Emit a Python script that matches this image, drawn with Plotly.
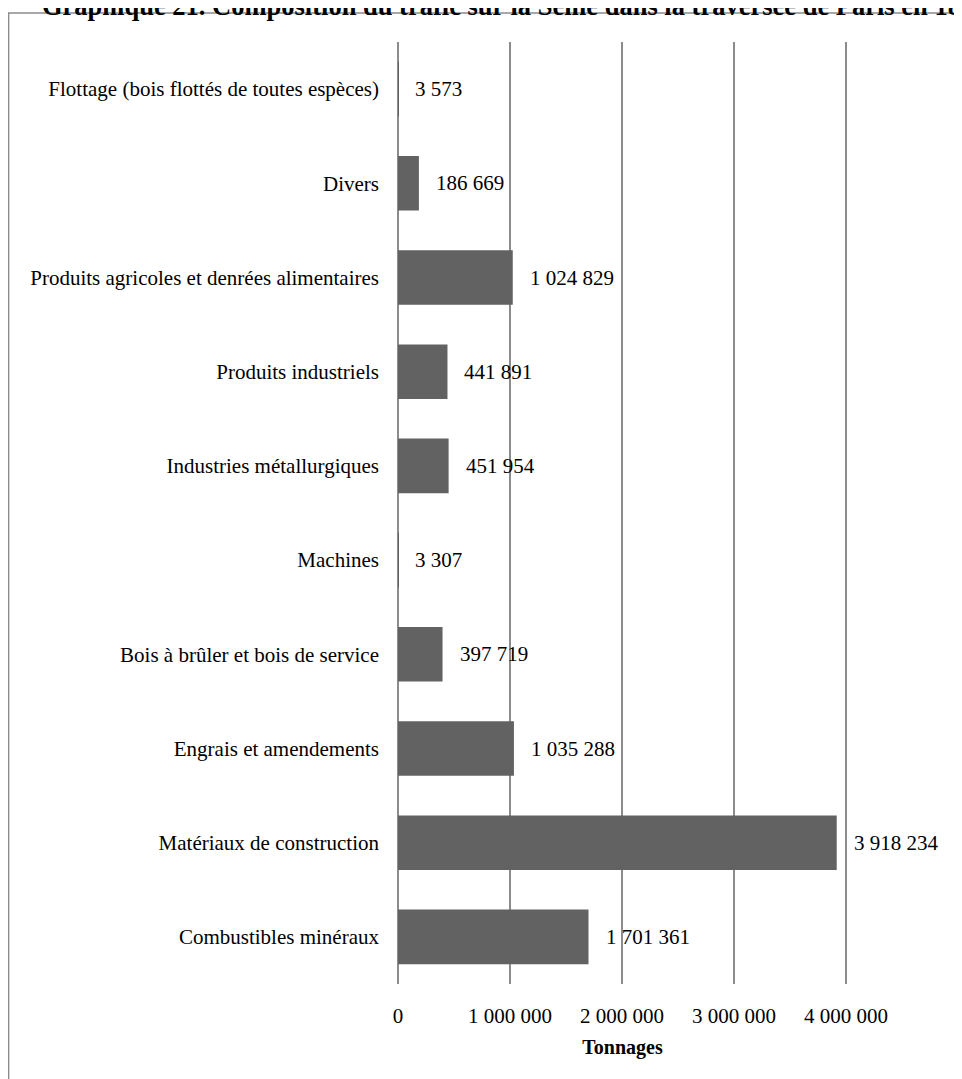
import plotly.graph_objects as go

categories = [
    "Flottage (bois flottés de toutes espèces)",
    "Divers",
    "Produits agricoles et denrées alimentaires",
    "Produits industriels",
    "Industries métallurgiques",
    "Machines",
    "Bois à brûler et bois de service",
    "Engrais et amendements",
    "Matériaux de construction",
    "Combustibles minéraux",
]
tonnages = [3573, 186669, 1024829, 441891, 451954, 3307, 397719, 1035288, 3918234, 1701361]
tick_values = [0, 1000000, 2000000, 3000000, 4000000]
title_text = "Graphique 21. Composition du trafic sur la Seine dans la traversée de Paris en 18"
x_title = "Tonnages"

OFF = 8  # default page margin of the browser
W, H = 962, 1079
X_MAX = 4010000
SCALE = 112 / 1000000  # pixels per tonne
pw_target = X_MAX * SCALE
L, T, B = 398 - OFF, 42 - OFF, 95 + OFF
R = W - L - pw_target
pw, ph = W - L - R, H - T - B

def px_x(p):
    return (p - OFF - L) / pw

def px_y(p):
    return (H - B - (p - OFF)) / ph

FONT = "Liberation Serif"

fig = go.Figure()
fig.add_trace(go.Bar(
    x=tonnages, y=categories, orientation="h",
    marker=dict(color="#626262", line=dict(width=0)),
    hoverinfo="skip",
))

def fmt(v):
    return f"{v:,}".replace(",", " ")

for c, v in zip(categories, tonnages):
    fig.add_annotation(x=v, y=c, xref="x", yref="y", text=fmt(v), showarrow=False,
                       xanchor="left", yanchor="middle", xshift=15,
                       font=dict(family=FONT, size=21, color="#000000"))

fig.add_annotation(x=px_x(40), y=px_y(5.5), xref="paper", yref="paper", text="<b>" + title_text + "</b>",
                   showarrow=False, xanchor="left", yanchor="middle",
                   font=dict(family=FONT, size=26.5, color="#000000"))

fig.add_shape(type="rect", xref="paper", yref="paper",
              x0=px_x(8.5), x1=px_x(1010), y0=px_y(13), y1=px_y(1120),
              line=dict(color="#8c8c8c", width=1.5), fillcolor="rgba(0,0,0,0)", layer="below")

fig.update_layout(
    width=W, height=H,
    margin=dict(l=L, r=R, t=T, b=B, pad=0),
    paper_bgcolor="white", plot_bgcolor="white",
    separators=", ",
    bargap=0.42,
    showlegend=False,
    font=dict(family=FONT, size=21, color="#000000"),
    xaxis=dict(
        range=[0, X_MAX], tickvals=tick_values, tickformat=",d",
        showgrid=True, gridcolor="#8c8c8c", gridwidth=1.5,
        zeroline=True, zerolinecolor="#8c8c8c", zerolinewidth=1.5,
        showline=False, ticks="", ticklabelstandoff=17,
        tickfont=dict(family=FONT, size=21, color="#000000"),
        title=dict(text="<b>" + x_title + "</b>", standoff=12,
                   font=dict(family=FONT, size=20, color="#000000")),
        fixedrange=True,
    ),
    yaxis=dict(
        categoryorder="array", categoryarray=categories, autorange="reversed",
        showgrid=False, showline=False, ticks="", ticklabelstandoff=18,
        tickfont=dict(family=FONT, size=21, color="#000000"),
        fixedrange=True,
    ),
)

fig.write_html("out.html")
